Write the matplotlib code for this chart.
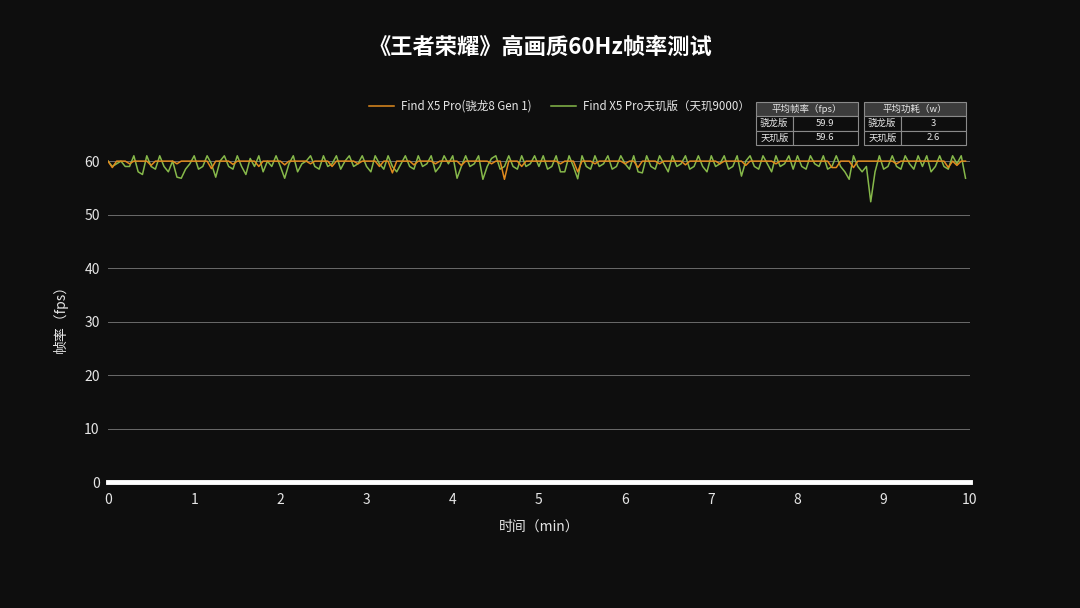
import numpy as np
import matplotlib.pyplot as plt
from matplotlib.patches import Rectangle

plt.rcParams["font.family"] = ["Noto Sans CJK SC", "DejaVu Sans"]

TITLE = "《王者荣耀》高画质60Hz帧率测试"
SERIES_NAMES = ["Find X5 Pro(骁龙8 Gen 1)", "Find X5 Pro天玑版（天玑9000）"]
STEP_MIN = 0.05  # sampling interval of the readings below

# Snapdragon 8 Gen 1 frame rate, one reading every 3 s
fps_sd = [
    60, 58.8, 60, 60, 60, 59.5, 60, 60, 60, 60, 59.2, 60, 60, 60, 60, 60, 59.5, 60, 60, 60,
    60, 60, 60, 60, 58.6, 60, 60, 60, 60, 59.4, 60, 60, 60, 60, 60, 59, 60, 60, 60, 60,
    60, 59.3, 60, 60, 60, 60, 60, 59.5, 60, 60, 60, 60, 59, 60, 60, 60, 60, 60, 59.5, 60,
    60, 60, 60, 59, 60, 60, 57.8, 60, 60, 60, 60, 59.3, 60, 60, 60, 60, 59.5, 60, 60, 60,
    60, 60, 59.2, 60, 60, 60, 60, 60, 60, 59.5, 60, 60, 56.6, 60, 60, 60, 59, 60, 60, 60,
    60, 60, 60, 60, 60, 59.5, 60, 60, 60, 58, 60, 60, 60, 59.5, 60, 60, 60, 60, 60, 60,
    59.5, 60, 60, 58.8, 60, 60, 60, 60, 59.5, 60, 60, 60, 60, 60, 59.3, 60, 60, 60, 60, 60,
    60, 60, 59.5, 60, 60, 60, 60, 60, 59.2, 60, 60, 60, 60, 60, 60, 59.5, 60, 60, 60, 60,
    60, 60, 60, 60, 60, 60, 60, 60, 58.8, 58.8, 60, 60, 60, 58.8, 60, 60, 60, 60, 60, 60,
    60, 60, 60, 59.5, 60, 60, 60, 60, 60, 60, 60, 60, 60, 60, 60, 58.8, 60, 59.2, 60, 60,
]

# Dimensity 9000 frame rate, same sampling
fps_dm = [
    60, 59, 59.5, 60, 59, 59, 61, 58, 57.5, 61, 59, 58.5, 61, 59, 58, 60, 57, 56.8, 58.5, 59.5,
    61, 58.5, 59, 61, 59.5, 57, 60, 61, 59, 58.5, 61, 59, 57.5, 60.5, 59, 61, 58, 60, 59, 61,
    59, 56.8, 59.5, 61, 58, 59.5, 60, 61, 59, 58.5, 61, 59, 59.5, 61, 58.5, 60, 61, 59, 59.5, 61,
    59, 58, 61, 59.5, 58.5, 61, 59, 58, 59.5, 61, 59, 58.5, 61, 59, 59.5, 61, 58, 59, 61, 59.5,
    61, 56.8, 59, 61, 59, 59.5, 61, 56.6, 59, 60.5, 61, 58.5, 59, 61, 59, 58.5, 61, 59, 59.5, 61,
    59, 61, 58.5, 59, 61, 58, 58, 61, 59, 56.7, 61, 59, 58.5, 61, 59, 59.5, 61, 58.5, 59, 61,
    59.5, 58.5, 61, 58, 57.8, 61, 59, 58.5, 61, 59.5, 58, 61, 59, 59.5, 61, 58.5, 59, 61, 59, 58,
    61, 59, 59.5, 61, 58.5, 59, 61, 57.2, 60, 61, 59, 58.5, 61, 59.5, 58, 61, 59, 59.5, 61, 58.5,
    61, 59, 58.5, 61, 59.5, 59, 61, 58.5, 59, 61, 59, 58, 56.6, 61, 59, 58, 59, 52.4, 58, 61,
    58.5, 59, 61, 59, 58.5, 61, 59.5, 58.5, 61, 59, 61, 58, 59, 61, 59, 58.5, 61, 59.5, 61, 56.8,
]

TABLE_ROWS = ["骁龙版", "天玑版"]
TABLE_HEADERS = ["平均帧率（fps）", "平均功耗（w）"]
avg_fps = ["59.9", "59.6"]
avg_power = ["3", "2.6"]

BG = "#0e0e0e"
ORANGE = "#e08a1e"
GREEN = "#86b84a"
TEXT = "#e6e6e6"


def draw_table(fig, x0, y0, w, h, header, values):
    # x0, y0 = top-left corner in figure pixels (origin top-left)
    W, H = fig.get_size_inches() * fig.dpi
    rh = h / 3
    c1 = w * 0.36

    def rect(x, y, ww, hh, fc):
        fig.patches.append(Rectangle((x / W, 1 - (y + hh) / H), ww / W, hh / H,
                                     transform=fig.transFigure, facecolor=fc,
                                     edgecolor="#8a8a8a", linewidth=0.8))

    def txt(x, y, s):
        fig.text(x / W, 1 - y / H, s, ha="center", va="center", color=TEXT, fontsize=6.8)

    rect(x0, y0, w, rh, "#3c3c3c")
    txt(x0 + w / 2, y0 + rh / 2, header)
    for i, (name, v) in enumerate(zip(TABLE_ROWS, values)):
        y = y0 + rh * (i + 1)
        rect(x0, y, c1, rh, BG)
        rect(x0 + c1, y, w - c1, rh, BG)
        txt(x0 + c1 / 2, y + rh / 2, name)
        txt(x0 + c1 + (w - c1) / 2, y + rh / 2, v)


def main() -> None:
    fig = plt.figure(figsize=(10.8, 6.08), dpi=100, facecolor=BG)
    ax = fig.add_axes([0.1, 0.207, 0.798, 0.55])
    ax.set_facecolor("none")

    t = np.arange(len(fps_sd)) * STEP_MIN
    ax.plot(t, fps_sd, color=ORANGE, linewidth=1.1, zorder=3, label=SERIES_NAMES[0])
    ax.plot(t, fps_dm, color=GREEN, linewidth=1.1, zorder=2, label=SERIES_NAMES[1])

    ax.set_xlim(0, 10)
    ax.set_ylim(0, 62.5)
    ax.set_xticks(range(0, 11))
    ax.set_yticks(range(0, 61, 10))
    for y in range(10, 61, 10):
        ax.axhline(y, color="#6a6a6a", linewidth=0.7, zorder=1)
    ax.axhline(0, color="white", linewidth=3.5, zorder=4, clip_on=False)
    for s in ax.spines.values():
        s.set_visible(False)
    ax.tick_params(colors=TEXT, length=0, labelsize=10, pad=6)
    ax.tick_params(axis="x", pad=8)

    ax.set_xlabel("时间（min）", color=TEXT, fontsize=10, labelpad=9)
    ax.set_ylabel("帧率（fps）", color=TEXT, fontsize=10, labelpad=12)

    fig.text(0.5, 0.922, TITLE, ha="center", va="center", color="white",
             fontsize=16, fontweight="bold")

    fig.legend(loc="center", bbox_to_anchor=(0.518, 0.825), ncol=2, frameon=False,
               fontsize=8.3, labelcolor=TEXT, handlelength=2.2, columnspacing=1.7,
               handletextpad=0.6)

    draw_table(fig, 756, 102, 102, 43, TABLE_HEADERS[0], avg_fps)
    draw_table(fig, 864, 102, 102, 43, TABLE_HEADERS[1], avg_power)

    fig.savefig("out.png", dpi=100, facecolor=BG)


if __name__ == "__main__":
    main()
